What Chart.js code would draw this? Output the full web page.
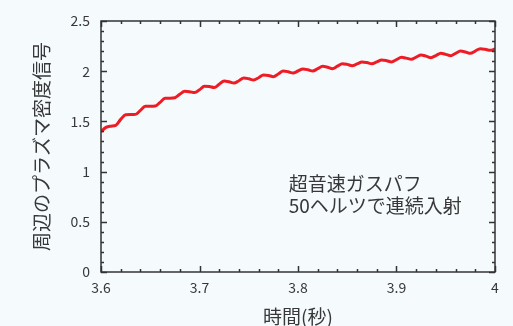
<!DOCTYPE html>
<html>
<head>
<meta charset="utf-8">
<script src="https://cdn.jsdelivr.net/npm/chart.js@4"></script>
<style>
  body { margin: 0; background: #f5fafd; }
  #c { display: block; }
</style>
</head>
<body>
<canvas id="c" width="513" height="326"></canvas>
<script>
// time in seconds, sampled every 0.005 s
const times = [
  3.600, 3.605, 3.610, 3.615, 3.620, 3.625, 3.630, 3.635, 3.640, 3.645,
  3.650, 3.655, 3.660, 3.665, 3.670, 3.675, 3.680, 3.685, 3.690, 3.695,
  3.700, 3.705, 3.710, 3.715, 3.720, 3.725, 3.730, 3.735, 3.740, 3.745,
  3.750, 3.755, 3.760, 3.765, 3.770, 3.775, 3.780, 3.785, 3.790, 3.795,
  3.800, 3.805, 3.810, 3.815, 3.820, 3.825, 3.830, 3.835, 3.840, 3.845,
  3.850, 3.855, 3.860, 3.865, 3.870, 3.875, 3.880, 3.885, 3.890, 3.895,
  3.900, 3.905, 3.910, 3.915, 3.920, 3.925, 3.930, 3.935, 3.940, 3.945,
  3.950, 3.955, 3.960, 3.965, 3.970, 3.975, 3.980, 3.985, 3.990, 3.995,
  4.000
];

// edge plasma density signal
const density = [
  1.397, 1.440, 1.452, 1.460, 1.520, 1.566, 1.568, 1.570, 1.610, 1.650,
  1.651, 1.653, 1.690, 1.730, 1.731, 1.735, 1.770, 1.800, 1.796, 1.787,
  1.815, 1.851, 1.848, 1.838, 1.870, 1.902, 1.895, 1.882, 1.905, 1.932,
  1.925, 1.912, 1.935, 1.962, 1.958, 1.945, 1.972, 2.002, 1.995, 1.982,
  2.002, 2.022, 2.015, 2.002, 2.025, 2.049, 2.040, 2.025, 2.050, 2.075,
  2.068, 2.055, 2.072, 2.092, 2.086, 2.075, 2.093, 2.112, 2.105, 2.092,
  2.115, 2.138, 2.130, 2.118, 2.140, 2.161, 2.150, 2.135, 2.156, 2.178,
  2.168, 2.154, 2.178, 2.201, 2.192, 2.178, 2.201, 2.224, 2.218, 2.208,
  2.221
];

const xTicks = [3.6, 3.7, 3.8, 3.9, 4];
const yTicks = [0, 0.5, 1, 1.5, 2, 2.5];
const noteLines = ['超音速ガスパフ', '50ヘルツで連続入射'];

const FONT = '"Noto Sans CJK JP", "Noto Sans", sans-serif';
const INK = '#383838';

// frame with inward ticks on all four sides
const framePlugin = {
  id: 'frame',
  afterDatasetsDraw(chart) {
    const { ctx, chartArea: a, scales: { x, y } } = chart;
    ctx.save();
    ctx.strokeStyle = '#333333';
    ctx.lineWidth = 1.5;
    ctx.beginPath();
    // x ticks, minor every 0.02
    for (let i = 0; i <= 20; i++) {
      const v = 3.6 + i * 0.02;
      const px = Math.round(x.getPixelForValue(v)) + 0.5;
      const len = i % 5 === 0 ? 6 : 3;
      ctx.moveTo(px, a.bottom); ctx.lineTo(px, a.bottom - len);
      ctx.moveTo(px, a.top); ctx.lineTo(px, a.top + len);
    }
    // y ticks, minor every 0.1
    for (let i = 0; i <= 25; i++) {
      const v = i * 0.1;
      const py = Math.round(y.getPixelForValue(v)) + 0.5;
      const len = i % 5 === 0 ? 6 : 3;
      ctx.moveTo(a.left, py); ctx.lineTo(a.left + len, py);
      ctx.moveTo(a.right, py); ctx.lineTo(a.right - len, py);
    }
    ctx.stroke();
    ctx.strokeRect(a.left, a.top, a.right - a.left, a.bottom - a.top);

    // annotation
    ctx.fillStyle = INK;
    ctx.font = '19px ' + FONT;
    ctx.textBaseline = 'middle';
    ctx.textAlign = 'left';
    const tx = x.getPixelForValue(3.7905);
    ctx.fillText(noteLines[0], tx, y.getPixelForValue(0.88));
    ctx.fillText(noteLines[1], tx, y.getPixelForValue(0.655));
    ctx.restore();
  }
};

const bgPlugin = {
  id: 'bg',
  beforeDraw(chart) {
    const { ctx, width, height } = chart;
    ctx.save();
    ctx.fillStyle = '#f5fafd';
    ctx.fillRect(0, 0, width, height);
    ctx.restore();
  }
};

new Chart(document.getElementById('c'), {
  type: 'line',
  data: {
    datasets: [{
      data: times.map((t, i) => ({ x: t, y: density[i] })),
      borderColor: '#ee1d25',
      borderWidth: 3,
      pointRadius: 0,
      cubicInterpolationMode: 'monotone',
      fill: false
    }]
  },
  options: {
    responsive: false,
    animation: false,
    layout: { padding: { left: 0, right: 18, top: 21, bottom: 0 } },
    plugins: { legend: { display: false }, tooltip: { enabled: false } },
    scales: {
      x: {
        type: 'linear',
        min: 3.6,
        max: 4,
        afterBuildTicks: s => { s.ticks = xTicks.map(v => ({ value: v })); },
        afterFit: s => { s.height = 54; },
        grid: { display: false, drawTicks: false },
        border: { display: false },
        ticks: {
          padding: 7,
          color: INK,
          font: { family: FONT, size: 14 },
          callback: v => String(v)
        },
        title: {
          display: true,
          text: '時間(秒)',
          color: INK,
          font: { family: FONT, size: 19, lineHeight: 1 },
          padding: { top: 0, bottom: 0 }
        }
      },
      y: {
        min: 0,
        max: 2.5,
        afterBuildTicks: s => { s.ticks = yTicks.map(v => ({ value: v })); },
        afterFit: s => { s.width = 101; },
        grid: { display: false, drawTicks: false },
        border: { display: false },
        ticks: {
          padding: 11,
          color: INK,
          font: { family: FONT, size: 14 },
          callback: v => String(v)
        },
        title: {
          display: true,
          text: '周辺のプラズマ密度信号',
          color: INK,
          font: { family: FONT, size: 19, lineHeight: 1 },
          padding: { top: 32, bottom: 0 }
        }
      }
    }
  },
  plugins: [bgPlugin, framePlugin]
});
</script>
</body>
</html>
